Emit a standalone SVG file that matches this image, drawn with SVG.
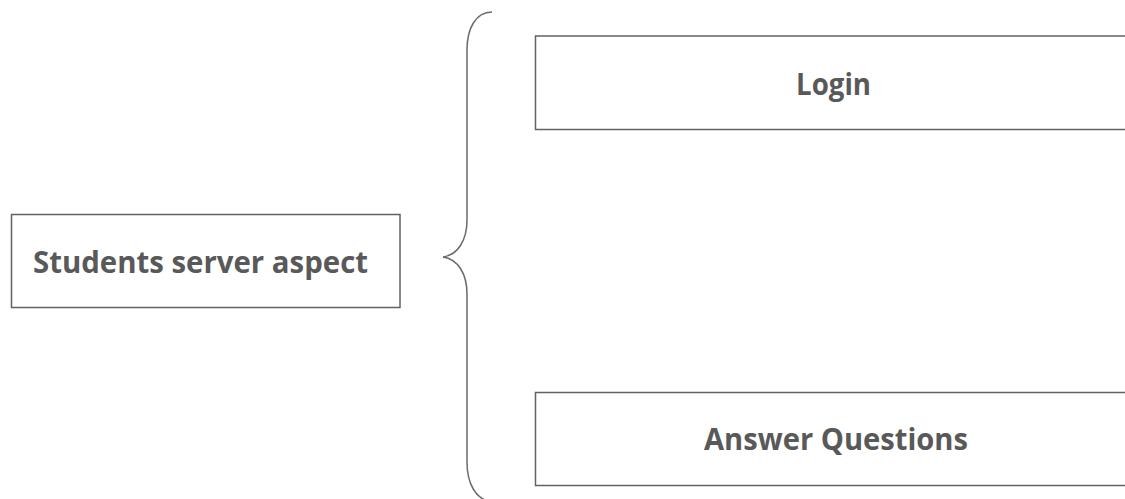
<svg xmlns="http://www.w3.org/2000/svg" width="1125" height="499" viewBox="0 0 1125 499">
<style>
.box{fill:#ffffff;stroke:#626262;stroke-width:1.5}
.lbl{font-family:"Open Sans","Liberation Sans",sans-serif;font-weight:700;font-size:30px;fill:#595959}
.brace{fill:none;stroke:#6a6a6a;stroke-width:1.5}
</style>
<rect width="1125" height="499" fill="#ffffff"/>
<g id="node-students">
<rect class="box" x="11.5" y="214.5" width="388.5" height="93"/>
<text class="lbl" x="33" y="273" textLength="335" lengthAdjust="spacingAndGlyphs">Students server aspect</text>
</g>
<g id="connectors">
<path class="brace" d="M492,12 C476,12 467,28 467,50 L467,220 C467,240 458,255 443,257 C458,259 467,274 467,294 L467,462 C467,484 476,500 492,502"/>
</g>
<g id="node-login">
<rect class="box" x="535.5" y="36" width="600" height="93.5"/>
<text class="lbl" x="796" y="95" textLength="75" lengthAdjust="spacingAndGlyphs">Login</text>
</g>
<g id="node-answer">
<rect class="box" x="535.5" y="392.5" width="600" height="93"/>
<text class="lbl" x="704" y="450" textLength="264" lengthAdjust="spacingAndGlyphs">Answer Questions</text>
</g>
</svg>
